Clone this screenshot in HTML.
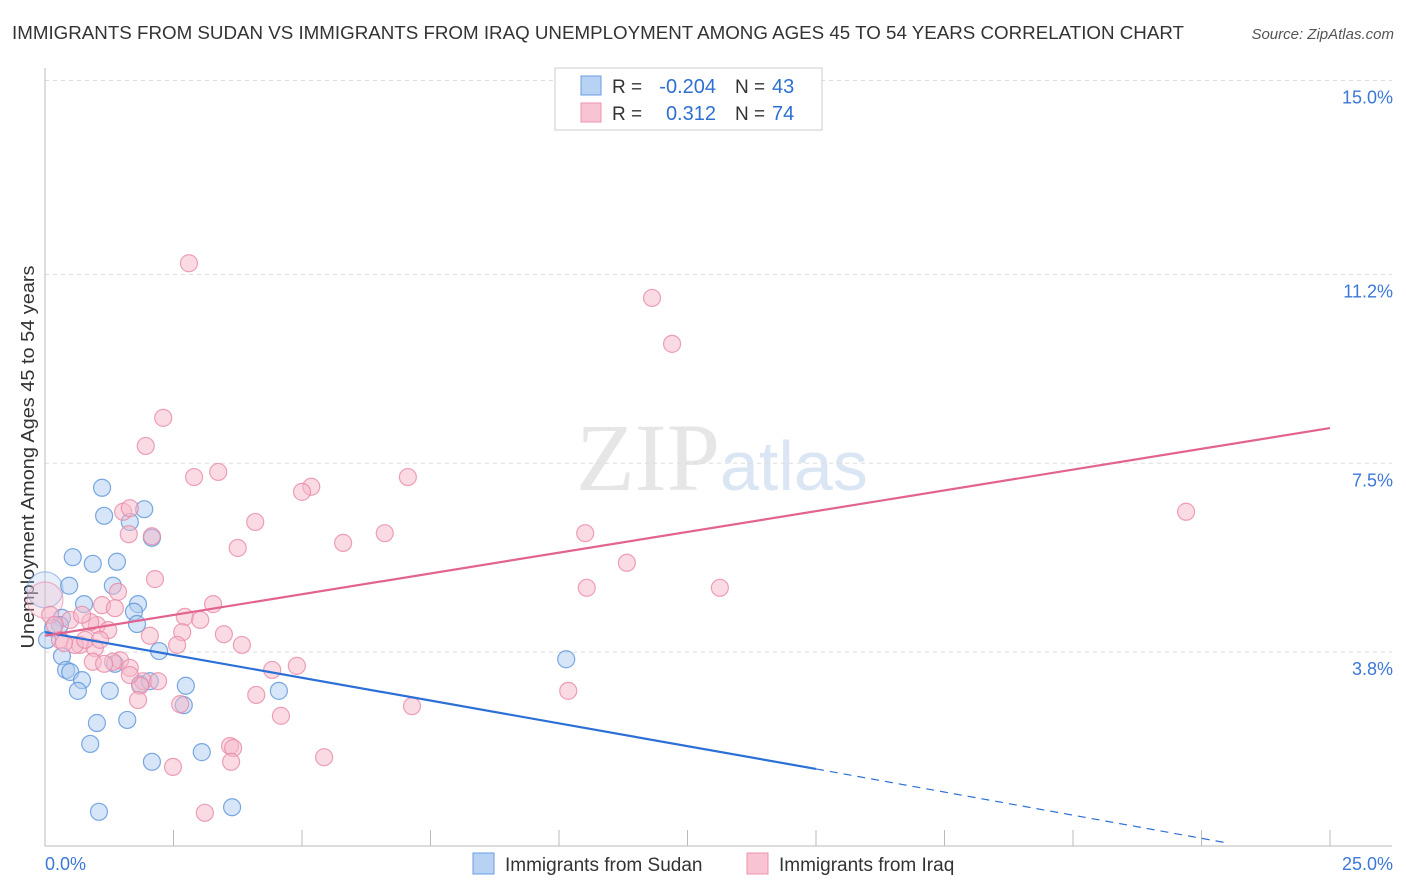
<!DOCTYPE html>
<html><head><meta charset="utf-8"><style>
body{margin:0;background:#fff;font-family:"Liberation Sans",sans-serif;}
</style></head><body>
<svg id="c" width="1406" height="892" style="display:block">
<text x="12" y="39" font-size="18.5" fill="#333" textLength="1172" lengthAdjust="spacingAndGlyphs">IMMIGRANTS FROM SUDAN VS IMMIGRANTS FROM IRAQ UNEMPLOYMENT AMONG AGES 45 TO 54 YEARS CORRELATION CHART</text>
<text x="1394" y="39" font-size="15" fill="#555" font-style="italic" text-anchor="end">Source: ZipAtlas.com</text>
<text x="720" y="490" font-size="96" fill="#e6e6e6" font-family="Liberation Serif" text-anchor="end">ZIP</text>
<text x="720" y="490" font-size="70" fill="#dbe6f5">atlas</text>
<text transform="translate(34,457) rotate(-90)" font-size="18" fill="#333" text-anchor="middle" textLength="383" lengthAdjust="spacingAndGlyphs">Unemployment Among Ages 45 to 54 years</text>
<g id="grid"></g><g id="marks"></g>
<g>
<rect x="555" y="68" width="267" height="62" fill="#fff" stroke="#ccc"/>
<rect x="581" y="76" width="20" height="19" fill="#b8d2f3" stroke="#6a9de0"/>
<rect x="581" y="103" width="20" height="19" fill="#f8c3d3" stroke="#eb94ae"/>
<text x="612" y="93" font-size="19" fill="#333">R =</text>
<text x="716" y="93" font-size="20" fill="#2f6fd0" text-anchor="end">-0.204</text>
<text x="735" y="93" font-size="19" fill="#333">N =</text>
<text x="772" y="93" font-size="20" fill="#2f6fd0">43</text>
<text x="612" y="120" font-size="19" fill="#333">R =</text>
<text x="716" y="120" font-size="20" fill="#2f6fd0" text-anchor="end">0.312</text>
<text x="735" y="120" font-size="19" fill="#333">N =</text>
<text x="772" y="120" font-size="20" fill="#2f6fd0">74</text>
</g>
<g>
<rect x="473" y="853" width="21" height="21" fill="#b8d2f3" stroke="#6a9de0"/>
<text x="505" y="871" font-size="19" fill="#333">Immigrants from Sudan</text>
<rect x="747" y="853" width="21" height="21" fill="#f8c3d3" stroke="#eb94ae"/>
<text x="779" y="871" font-size="19" fill="#333">Immigrants from Iraq</text>
</g>
</svg>
<script>
const yTicks=[15.0,11.2,7.5,3.8];
const yTickLabels=["15.0%","11.2%","7.5%","3.8%"];
const xTicks=[0,2.5,5,7.5,10,12.5,15,17.5,20,22.5,25];
const xEndLabels=["0.0%","25.0%"];
const sudanX=[1.11,1.15,1.65,1.93,0.54,0.93,1.40,0.47,1.32,0.76,1.81,1.73,1.79,0.33,0.29,0.16,0.04,0.33,0.41,0.49,0.72,0.64,1.26,1.36,1.85,2.04,2.22,2.74,2.70,1.01,1.60,0.88,2.08,3.05,1.05,3.64,4.55,10.14,2.08];
const sudanY=[7.02,6.47,6.35,6.60,5.66,5.53,5.57,5.10,5.10,4.74,4.74,4.59,4.35,4.47,4.33,4.27,4.04,3.72,3.45,3.41,3.25,3.04,3.04,3.57,3.17,3.23,3.82,3.14,2.76,2.41,2.47,2.00,1.65,1.84,0.67,0.76,3.04,3.66,6.04];
const iraqX=[2.80,11.81,12.20,2.30,1.96,3.37,2.90,7.06,5.18,5.00,4.09,1.52,1.65,1.63,2.08,3.75,5.80,6.61,10.51,22.20,11.32,2.14,10.54,13.13,1.42,3.27,2.72,3.02,1.11,0.49,0.10,1.01,1.23,2.04,2.67,3.48,3.83,2.57,0.29,0.68,0.97,1.46,1.32,0.93,1.15,1.65,4.42,4.90,1.91,1.85,2.20,1.81,2.63,4.11,7.14,10.18,4.59,3.60,3.66,3.62,5.43,2.49,3.11,0.58,0.78,0.37,0.19,1.07,1.65,1.36,0.88,0.72];
const iraqY=[11.42,10.74,9.84,8.39,7.84,7.33,7.23,7.23,7.04,6.94,6.35,6.55,6.62,6.11,6.07,5.84,5.94,6.13,6.13,6.55,5.55,5.23,5.06,5.06,4.98,4.74,4.49,4.43,4.72,4.43,4.53,4.33,4.23,4.12,4.19,4.15,3.94,3.94,4.04,3.94,3.88,3.64,3.61,3.61,3.57,3.49,3.45,3.53,3.23,3.14,3.23,2.86,2.78,2.96,2.74,3.04,2.55,1.96,1.92,1.65,1.74,1.55,0.65,3.94,4.04,3.98,4.33,4.04,3.35,4.66,4.39,4.53];
const bigSudan=[0,5.02], bigIraq=[0,4.82];
const sudanTrend=[[0,4.19],[15,1.51],[23,0.06]];
const iraqTrend=[[0,4.12],[25,8.19]];
const NS="http://www.w3.org/2000/svg";
const X=v=>45+v*51.4, Y=v=>846-v*51.03;
function mk(tag,attrs,parent){const e=document.createElementNS(NS,tag);for(const k in attrs)e.setAttribute(k,attrs[k]);parent.appendChild(e);return e;}
const grid=document.getElementById('grid'), marks=document.getElementById('marks');
yTicks.forEach((t,i)=>{
 const l=mk('line',{x1:45,x2:1392,y1:Y(t),y2:Y(t),stroke:'#ddd','stroke-dasharray':'4,4'},grid);
 
 
 const tx=mk('text',{x:1393,y:Y(t)+23,'font-size':18,fill:'#3b78d8','text-anchor':'end'},grid);
 tx.textContent=yTickLabels[i];
 
 
});
let a=mk('line',{x1:45,x2:45,y1:68,y2:846,stroke:'#bbb'},grid);


a=mk('line',{x1:45,x2:1392,y1:846,y2:846,stroke:'#bbb'},grid);


xTicks.forEach(t=>{const l=mk('line',{x1:X(t),x2:X(t),y1:830,y2:846,stroke:'#bbb'},grid);
 
 });
[[0,'start',45],[1,'end',1393]].forEach(([i,anc,x])=>{const t=mk('text',{x:x,y:870,'font-size':18,fill:'#3b78d8','text-anchor':anc},grid);t.textContent=xEndLabels[i];
 
 });
function dot(x,y,r,fill,stroke,name,op){const c=mk('circle',{cx:X(x),cy:Y(y),r:r,fill:fill,'fill-opacity':op,stroke:stroke,'stroke-opacity':op+0.3,'stroke-width':1.2},marks);
 
 }
dot(bigSudan[0],bigSudan[1],18,'#aecbf0','#6a9de0','sudan-point',0.3);
dot(bigIraq[0],bigIraq[1],18,'#f6b8ca','#e88aa6','iraq-point',0.3);
sudanX.forEach((x,i)=>dot(x,sudanY[i],8.5,'#aecbf0','#5b93d9','sudan-point',0.5));
iraqX.forEach((x,i)=>dot(x,iraqY[i],8.5,'#f6b8ca','#e88aa6','iraq-point',0.5));
let t=mk('line',{x1:X(sudanTrend[0][0]),y1:Y(sudanTrend[0][1]),x2:X(sudanTrend[1][0]),y2:Y(sudanTrend[1][1]),stroke:'#2c6fd6','stroke-width':2.2},marks);


t=mk('line',{x1:X(sudanTrend[1][0]),y1:Y(sudanTrend[1][1]),x2:X(sudanTrend[2][0]),y2:Y(sudanTrend[2][1]),stroke:'#2c6fd6','stroke-width':1.2,'stroke-dasharray':'8,6'},marks);


t=mk('line',{x1:X(iraqTrend[0][0]),y1:Y(iraqTrend[0][1]),x2:X(iraqTrend[1][0]),y2:Y(iraqTrend[1][1]),stroke:'#e2648e','stroke-width':2.2},marks);


</script>
</body></html>
